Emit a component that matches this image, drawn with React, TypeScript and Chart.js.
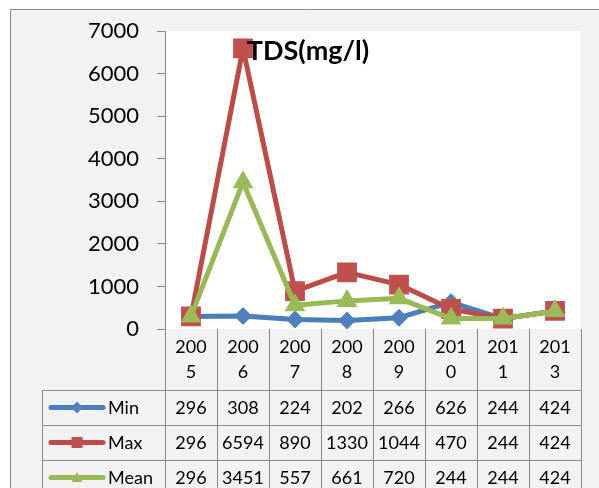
import React, { useEffect, useRef } from "react";
import { Chart, registerables } from "chart.js";

Chart.register(...registerables);

const categories = ["2005", "2006", "2007", "2008", "2009", "2010", "2011", "2013"];
const minValues = [296, 308, 224, 202, 266, 626, 244, 424];
const maxValues = [296, 6594, 890, 1330, 1044, 470, 244, 424];
const meanValues = [296, 3451, 557, 661, 720, 244, 244, 424];
const yTicks = [0, 1000, 2000, 3000, 4000, 5000, 6000, 7000];
const titleText = "TDS(mg/l)";

const FONT = "Lato, 'Liberation Sans', sans-serif";
const GRAY = "#898989";

const series = [
  { label: "Min", data: minValues, line: "#4A7EBB", fill: "#4F81BD", style: "rectRot" },
  { label: "Max", data: maxValues, line: "#BE4B48", fill: "#C0504D", style: "rect" },
  { label: "Mean", data: meanValues, line: "#98B954", fill: "#9BBB59", style: "triangle" },
];

function drawMarker(ctx: CanvasRenderingContext2D, style: string, x: number, y: number, s: number, color: string) {
  ctx.save();
  ctx.fillStyle = color;
  ctx.beginPath();
  if (style === "rect") {
    ctx.rect(x - s, y - s, 2 * s, 2 * s);
  } else if (style === "rectRot") {
    ctx.moveTo(x, y - s);
    ctx.lineTo(x + s, y);
    ctx.lineTo(x, y + s);
    ctx.lineTo(x - s, y);
    ctx.closePath();
  } else {
    ctx.moveTo(x, y - s);
    ctx.lineTo(x + s, y + s * 0.8);
    ctx.lineTo(x - s, y + s * 0.8);
    ctx.closePath();
  }
  ctx.fill();
  ctx.restore();
}

const bgPlugin = {
  id: "bgPlugin",
  beforeDraw(chart: any) {
    const ctx = chart.ctx as CanvasRenderingContext2D;
    const { width, height, chartArea } = chart;
    ctx.save();
    ctx.fillStyle = "#ffffff";
    ctx.fillRect(0, 0, width, height);
    ctx.fillStyle = "#F2F2F2";
    ctx.fillRect(10, 10, width - 10, height - 10);
    ctx.strokeStyle = GRAY;
    ctx.lineWidth = 1;
    ctx.beginPath();
    ctx.moveTo(10.5, height);
    ctx.lineTo(10.5, 9.5);
    ctx.lineTo(width, 9.5);
    ctx.stroke();
    ctx.fillStyle = "#ffffff";
    ctx.fillRect(chartArea.left, chartArea.top, chartArea.right - chartArea.left, chartArea.bottom - chartArea.top);
    ctx.restore();
  },
};

const tablePlugin = {
  id: "tablePlugin",
  afterDraw(chart: any) {
    const ctx = chart.ctx as CanvasRenderingContext2D;
    const x = chart.scales.x;
    const { chartArea } = chart;
    const n = categories.length;
    const colW = (chartArea.right - chartArea.left) / n;
    const top = chartArea.bottom;
    const headerBottom = top + 61;
    const rowH = 35;
    const legendLeft = 42;
    const tableBottom = headerBottom + rowH * series.length;

    ctx.save();
    // title
    ctx.fillStyle = "#000";
    ctx.font = `bold 27px ${FONT}`;
    ctx.textAlign = "center";
    ctx.textBaseline = "middle";
    ctx.fillText(titleText, 308, 51);

    // grid lines
    ctx.strokeStyle = GRAY;
    ctx.lineWidth = 1;
    ctx.beginPath();
    for (let i = 0; i <= n; i++) {
      const px = Math.round(chartArea.left + i * colW) + 0.5;
      ctx.moveTo(px, top);
      ctx.lineTo(px, tableBottom);
    }
    ctx.moveTo(legendLeft + 0.5, headerBottom);
    ctx.lineTo(legendLeft + 0.5, tableBottom);
    for (let r = 0; r <= series.length; r++) {
      const py = Math.round(headerBottom + r * rowH) + 0.5;
      ctx.moveTo(legendLeft, py);
      ctx.lineTo(chartArea.right + 1, py);
    }
    ctx.stroke();

    // header
    ctx.fillStyle = "#000";
    ctx.font = `18px ${FONT}`;
    ctx.textAlign = "center";
    ctx.textBaseline = "middle";
    categories.forEach((c, i) => {
      const cx = x.getPixelForValue(i);
      ctx.fillText(c.slice(0, 3), cx, top + 18);
      ctx.fillText(c.slice(3), cx, top + 43);
    });

    // rows
    series.forEach((s, r) => {
      const cy = headerBottom + r * rowH + rowH / 2 + 1;
      s.data.forEach((v, i) => {
        ctx.textAlign = "center";
        ctx.fillText(String(v), x.getPixelForValue(i), cy);
      });
      // legend key
      ctx.strokeStyle = s.line;
      ctx.lineWidth = 5;
      ctx.lineCap = "round";
      ctx.beginPath();
      ctx.moveTo(51, cy - 1);
      ctx.lineTo(103, cy - 1);
      ctx.stroke();
      drawMarker(ctx, s.style, 77, cy - 1, s.style === "rectRot" ? 6 : 5.5, s.fill);
      ctx.textAlign = "left";
      ctx.fillStyle = "#000";
      ctx.fillText(s.label, 108, cy);
    });
    ctx.restore();
  },
};

export default function App() {
  const ref = useRef<HTMLCanvasElement | null>(null);
  useEffect(() => {
    document.body.style.margin = "0";
    if (!ref.current) return;
    const chart = new Chart(ref.current, {
      type: "line",
      data: {
        labels: categories,
        datasets: series.map((s, i) => ({
          label: s.label,
          data: s.data,
          borderColor: s.line,
          backgroundColor: s.fill,
          borderWidth: 5,
          borderJoinStyle: "round" as const,
          borderCapStyle: "round" as const,
          pointStyle: s.style as any,
          pointRadius: s.style === "rect" ? 14 : s.style === "rectRot" ? 9 : 12,
          pointBorderWidth: 0,
          pointBackgroundColor: s.fill,
          pointBorderColor: s.fill,
          order: 3 - i,
          tension: 0,
        })),
      },
      options: {
        responsive: false,
        animation: false,
        layout: { padding: { left: 0, top: 25, right: 18, bottom: 159 } },
        plugins: { legend: { display: false }, tooltip: { enabled: false }, title: { display: false } },
        scales: {
          x: { type: "category", offset: true, display: false },
          y: {
            min: 0,
            max: 7000,
            afterBuildTicks: (scale: any) => {
              scale.ticks = yTicks.map((v) => ({ value: v }));
            },
            afterFit: (scale: any) => {
              scale.width = 165;
            },
            border: { display: true, color: GRAY, width: 1 },
            grid: { drawOnChartArea: false, drawTicks: true, tickLength: 8, color: GRAY },
            ticks: {
              color: "#000",
              font: { family: FONT, size: 22 },
              padding: 18,
              callback: (v: any) => String(v),
            },
          },
        },
      },
      plugins: [bgPlugin, tablePlugin],
    });
    return () => chart.destroy();
  }, []);
  return (
    <div style={{ width: 599, height: 488 }}>
      <canvas ref={ref} width={599} height={488} style={{ display: "block" }} />
    </div>
  );
}
